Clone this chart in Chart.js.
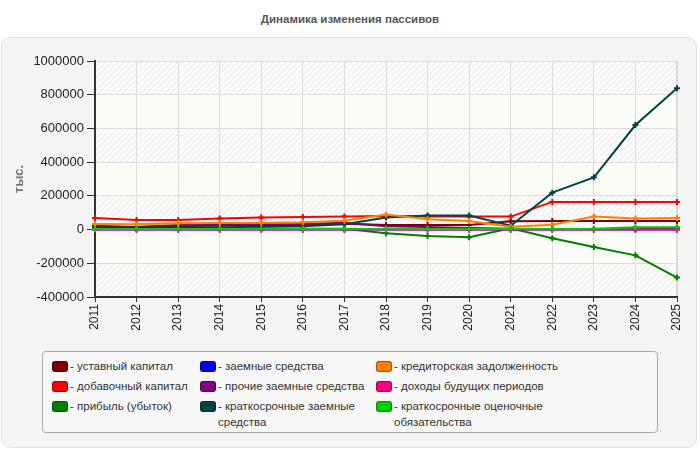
<!DOCTYPE html>
<html>
<head>
<meta charset="utf-8">
<script src="https://cdn.jsdelivr.net/npm/chart.js"></script>
<style>
  body { margin: 0; background: #fff; font-family: "Liberation Sans", Arial, sans-serif; }
  #wrap { position: relative; width: 700px; height: 450px; overflow: hidden; }
  #title { position: absolute; left: 0; top: 13px; width: 700px; text-align: center;
           font-weight: bold; font-size: 11.5px; color: #555; }
  #panel { position: absolute; left: 1px; top: 37px; width: 696px; height: 411px;
           box-sizing: border-box; background: #f4f4f4; border: 1px solid #e0e0e0; border-radius: 10px; }
  #out { position: absolute; left: 0; top: 0; }
  #legend { position: absolute; left: 42px; top: 351px; width: 616px; height: 82px; box-sizing: border-box;
            border: 1px solid #aaa; border-radius: 4px; background: #f7f7f7;
            padding: 6px 0 0 9px; display: grid; grid-template-columns: 148px 176px 200px;
            grid-template-rows: auto auto auto; grid-auto-flow: column; row-gap: 2px; }
  .item { display: flex; align-items: flex-start; font-size: 11.5px; line-height: 16px; color: #333; }
  .sw { flex: 0 0 auto; width: 14px; height: 9px; margin: 3px 2px 0 0; border-radius: 3px;
        border: 1px solid rgba(0,0,0,0.35); }
</style>
</head>
<body>
<div id="wrap">
  <div id="title">Динамика изменения пассивов</div>
  <div id="panel"></div>
  <canvas id="out" width="700" height="450"></canvas>
  <div id="legend"></div>
</div>
<script>
const years = ["2011", "2012", "2013", "2014", "2015", "2016", "2017", "2018",
  "2019", "2020", "2021", "2022", "2023", "2024", "2025"];

const ustavny   = [15000, 15000, 20000, 25000, 27000, 27000, 35000, 27000, 27000, 27000, 49000, 51000, 51000, 51000, 51000];
const dobavochny = [69000, 57000, 57000, 65000, 71000, 75000, 77000, 81000, 77000, 77000, 77000, 164000, 164000, 164000, 164000];
const pribyl    = [5000, 5000, 5000, 5000, 5000, 5000, 5000, -22000, -38000, -46000, 8000, -52000, -103000, -153000, -285000];
const zaemnye   = [0, 0, 0, 0, 0, 0, 0, 0, 0, 0, 0, 0, 0, 0, 0];
const prochie   = [23000, 15000, 27000, 31000, 31000, 33000, 41000, 20000, 15000, 10000, 5000, 3000, 3000, 3000, 3000];
const kratkoZaem = [12000, 12000, 14000, 14000, 16000, 20000, 31000, 72000, 83000, 83000, 23000, 219000, 310000, 620000, 838000];
const kreditor  = [33000, 31000, 37000, 39000, 41000, 43000, 53000, 89000, 61000, 51000, 17000, 29000, 77000, 65000, 69000];
const dohody    = [0, 0, 0, 0, 0, 0, 0, 0, 0, 0, 0, 0, 0, 0, 0];
const ocenoch   = [4000, 4000, 4000, 4000, 4000, 4000, 4000, 4000, 4000, 4000, 4000, 4000, 5000, 14000, 14000];

const yTicks = [-400000, -200000, 0, 200000, 400000, 600000, 800000, 1000000];

const series = [
  ["уставный капитал", "#800000", ustavny],
  ["добавочный капитал", "#ff0000", dobavochny],
  ["прибыль (убыток)", "#008000", pribyl],
  ["заемные средства", "#0000ff", zaemnye],
  ["прочие заемные средства", "#800080", prochie],
  ["краткосрочные заемные средства", "#004444", kratkoZaem],
  ["кредиторская задолженность", "#ff8000", kreditor],
  ["доходы будущих периодов", "#ff0080", dohody],
  ["краткосрочные оценочные обязательства", "#00cc00", ocenoch]
];

// hatch tile for the striped bands
const tile = document.createElement("canvas");
tile.width = 6; tile.height = 6;
const tctx = tile.getContext("2d");
tctx.fillStyle = "#fbfbfb";
tctx.fillRect(0, 0, 6, 6);
tctx.strokeStyle = "#e8e8e8";
tctx.lineWidth = 1;
tctx.beginPath();
tctx.moveTo(0, 6); tctx.lineTo(6, 0);
tctx.moveTo(-1, 1); tctx.lineTo(1, -1);
tctx.moveTo(5, 7); tctx.lineTo(7, 5);
tctx.stroke();

const bands = {
  id: "bands",
  beforeDraw(chart) {
    const ctx = chart.ctx;
    const a = chart.chartArea;
    const y = chart.scales.y;
    const pat = ctx.createPattern(tile, "repeat");
    ctx.save();
    for (let i = 0; i < yTicks.length - 1; i++) {
      const top = y.getPixelForValue(yTicks[yTicks.length - 1 - i]);
      const bot = y.getPixelForValue(yTicks[yTicks.length - 2 - i]);
      ctx.fillStyle = i % 2 === 0 ? pat : "#fdfdf7";
      ctx.fillRect(a.left, top, a.right - a.left, bot - top);
    }
    ctx.strokeStyle = "#d8d8d8";
    ctx.lineWidth = 1;
    ctx.strokeRect(a.left + 0.5, a.top + 0.5, a.right - a.left - 1, a.bottom - a.top);
    ctx.restore();
  }
};

const chartConfig = {
  type: "line",
  data: {
    labels: years,
    datasets: series.map((s, i) => ({
      label: s[0],
      data: s[2],
      borderColor: s[1],
      backgroundColor: s[1],
      borderWidth: 2,
      pointStyle: "cross",
      pointRadius: 3,
      pointBorderWidth: 2,
      tension: 0,
      order: series.length - i
    }))
  },
  options: {
    responsive: false,
    animation: false,
    layout: { padding: { left: 8, top: 61, right: 23, bottom: 0 } },
    plugins: { legend: { display: false }, tooltip: { enabled: false } },
    scales: {
      x: {
        afterFit: s => { s.height = 153; },
        grid: { color: "#dcdcdc", borderDash: [5, 4], tickLength: 5, tickColor: "#333", tickBorderDash: [] },
        border: { color: "#333", width: 2 },
        ticks: { color: "#222", font: { size: 12, family: "Liberation Sans" }, minRotation: 90, maxRotation: 90, padding: 2 }
      },
      y: {
        min: -400000,
        max: 1000000,
        afterFit: s => { s.width = 87; },
        afterBuildTicks: s => { s.ticks = yTicks.map(v => ({ value: v })); },
        grid: { color: "#dcdcdc", borderDash: [5, 4], tickLength: 8, tickColor: "#333", tickBorderDash: [] },
        border: { color: "#333", width: 2 },
        ticks: { color: "#222", font: { size: 13, family: "Liberation Sans" }, padding: 3, callback: v => String(v) },
        title: { display: true, text: "тыс.", color: "#777", font: { size: 13, weight: "bold", family: "Liberation Sans" }, padding: { top: 4, bottom: 4 } }
      }
    }
  },
  plugins: [bands]
};

window.chart = new Chart(document.getElementById("out").getContext("2d"), chartConfig);

const legend = document.getElementById("legend");
series.forEach(s => {
  const item = document.createElement("div");
  item.className = "item";
  const sw = document.createElement("span");
  sw.className = "sw";
  sw.style.background = s[1];
  const txt = document.createElement("span");
  txt.textContent = "- " + s[0];
  item.appendChild(sw);
  item.appendChild(txt);
  legend.appendChild(item);
});
</script>
</body>
</html>
